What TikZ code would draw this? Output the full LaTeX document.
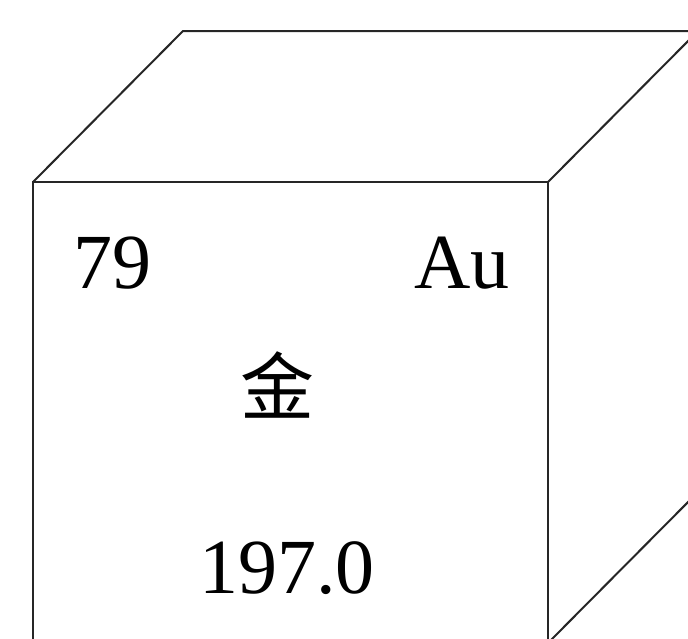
\documentclass[tikz,border=0pt]{standalone}
\usepackage{fontspec}
\setmainfont{Liberation Serif}
\newfontfamily\cjk{Noto Sans CJK SC}
\usepackage{tikz}
\usetikzlibrary{positioning,calc}
\tikzset{
  auedge/.style={draw=black!85, line width=2pt, line join=miter},
  aulab/.style={inner sep=0pt, font=\fontsize{78}{88}\selectfont},
  aucjk/.style={inner sep=0pt, font=\cjk\fontsize{74}{84}\selectfont},
}

\begin{document}
\begin{tikzpicture}[x=1pt, y=1pt]
  \useasboundingbox (0,0) rectangle (688,-638);
  \clip (0,0) rectangle (688,-638);
  % cube corners
  \coordinate (FTL) at (33,-182);
  \coordinate (FTR) at (548,-182);
  \coordinate (FBL) at (33,-643);
  \coordinate (FBR) at (548,-643);
  \coordinate (BTL) at (183,-31);
  \coordinate (BTR) at (698,-31);
  \coordinate (BBR) at (698,-492);
  \draw[auedge] (FTL) -- (FTR) -- (FBR) -- (FBL) -- cycle;
  \draw[auedge] (FTL) -- (BTL) -- (BTR) -- (FTR);
  \draw[auedge] (BTR) -- (BBR) -- (FBR);
  % element card
  \node[aulab, anchor=base west] (num) at (73,-288) {79};
  \node[aulab, anchor=base east] (sym) at (510,-288) {Au};
  \node[aucjk] (name) at (277,-385) {金};
  \node[aulab, anchor=base] (mass) at (287,-593) {197.0};
\end{tikzpicture}
\end{document}
